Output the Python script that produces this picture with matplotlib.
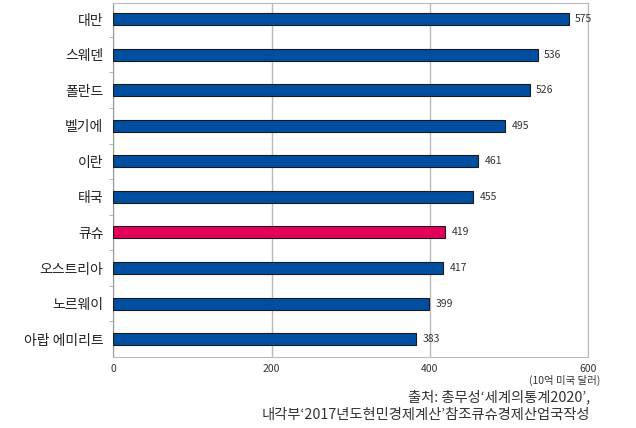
import matplotlib.pyplot as plt
import numpy as np

plt.rcParams['font.family'] = ['Noto Sans CJK KR', 'DejaVu Sans']

# data (top to bottom as in the chart)
regions = ["대만", "스웨덴", "폴란드", "벨기에", "이란", "태국", "큐슈",
           "오스트리아", "노르웨이", "아랍 에미리트"]
gdp = [575, 536, 526, 495, 461, 455, 419, 417, 399, 383]
highlight = "큐슈"

BLUE = "#004EA0"
RED = "#E2005A"

fig = plt.figure(figsize=(6.36, 4.28), dpi=100)
ax = fig.add_axes([0.178, 0.166, 0.747, 0.827])

y = np.arange(len(regions))
colors = [RED if r == highlight else BLUE for r in regions]
ax.barh(y, gdp, height=0.34, color=colors, edgecolor="#1a1a1a",
        linewidth=0.8, zorder=3)

for yi, v in zip(y, gdp):
    ax.text(v + 8, yi, str(v), va="center", ha="left", fontsize=7.5,
            color="#333333")

ax.set_xlim(0, 600)
ax.set_ylim(len(regions) - 0.5, -0.45)
ax.set_xticks([0, 200, 400, 600])
ax.set_xticklabels(["0", "200", "400", "600"], fontsize=7.5, color="#333333")
ax.set_yticks(y)
ax.set_yticklabels(regions, fontsize=10, color="#222222")
ax.tick_params(axis="y", length=0, pad=7)
ax.tick_params(axis="x", length=0, pad=5)
ax.set_yticks(y[:-1] + 0.5, minor=True)
ax.tick_params(axis="y", which="minor", length=3, color="#aaaaaa")

ax.grid(axis="x", color="#bbbbbb", linewidth=1, zorder=0)
for side in ["top", "right", "bottom"]:
    ax.spines[side].set_color("#bbbbbb")
ax.spines["left"].set_color("#999999")

fig.text(0.944, 0.11, "(10억 미국 달러)", ha="right", va="center",
         fontsize=7.5, color="#333333")
fig.text(0.928, 0.072, "출처: 총무성‘세계의통계2020’,", ha="right",
         va="center", fontsize=10.3, color="#333333")
fig.text(0.928, 0.030, "내각부‘2017년도현민경제계산’참조큐슈경제산업국작성",
         ha="right", va="center", fontsize=10.3, color="#333333")

fig.savefig("out.png", dpi=100)
